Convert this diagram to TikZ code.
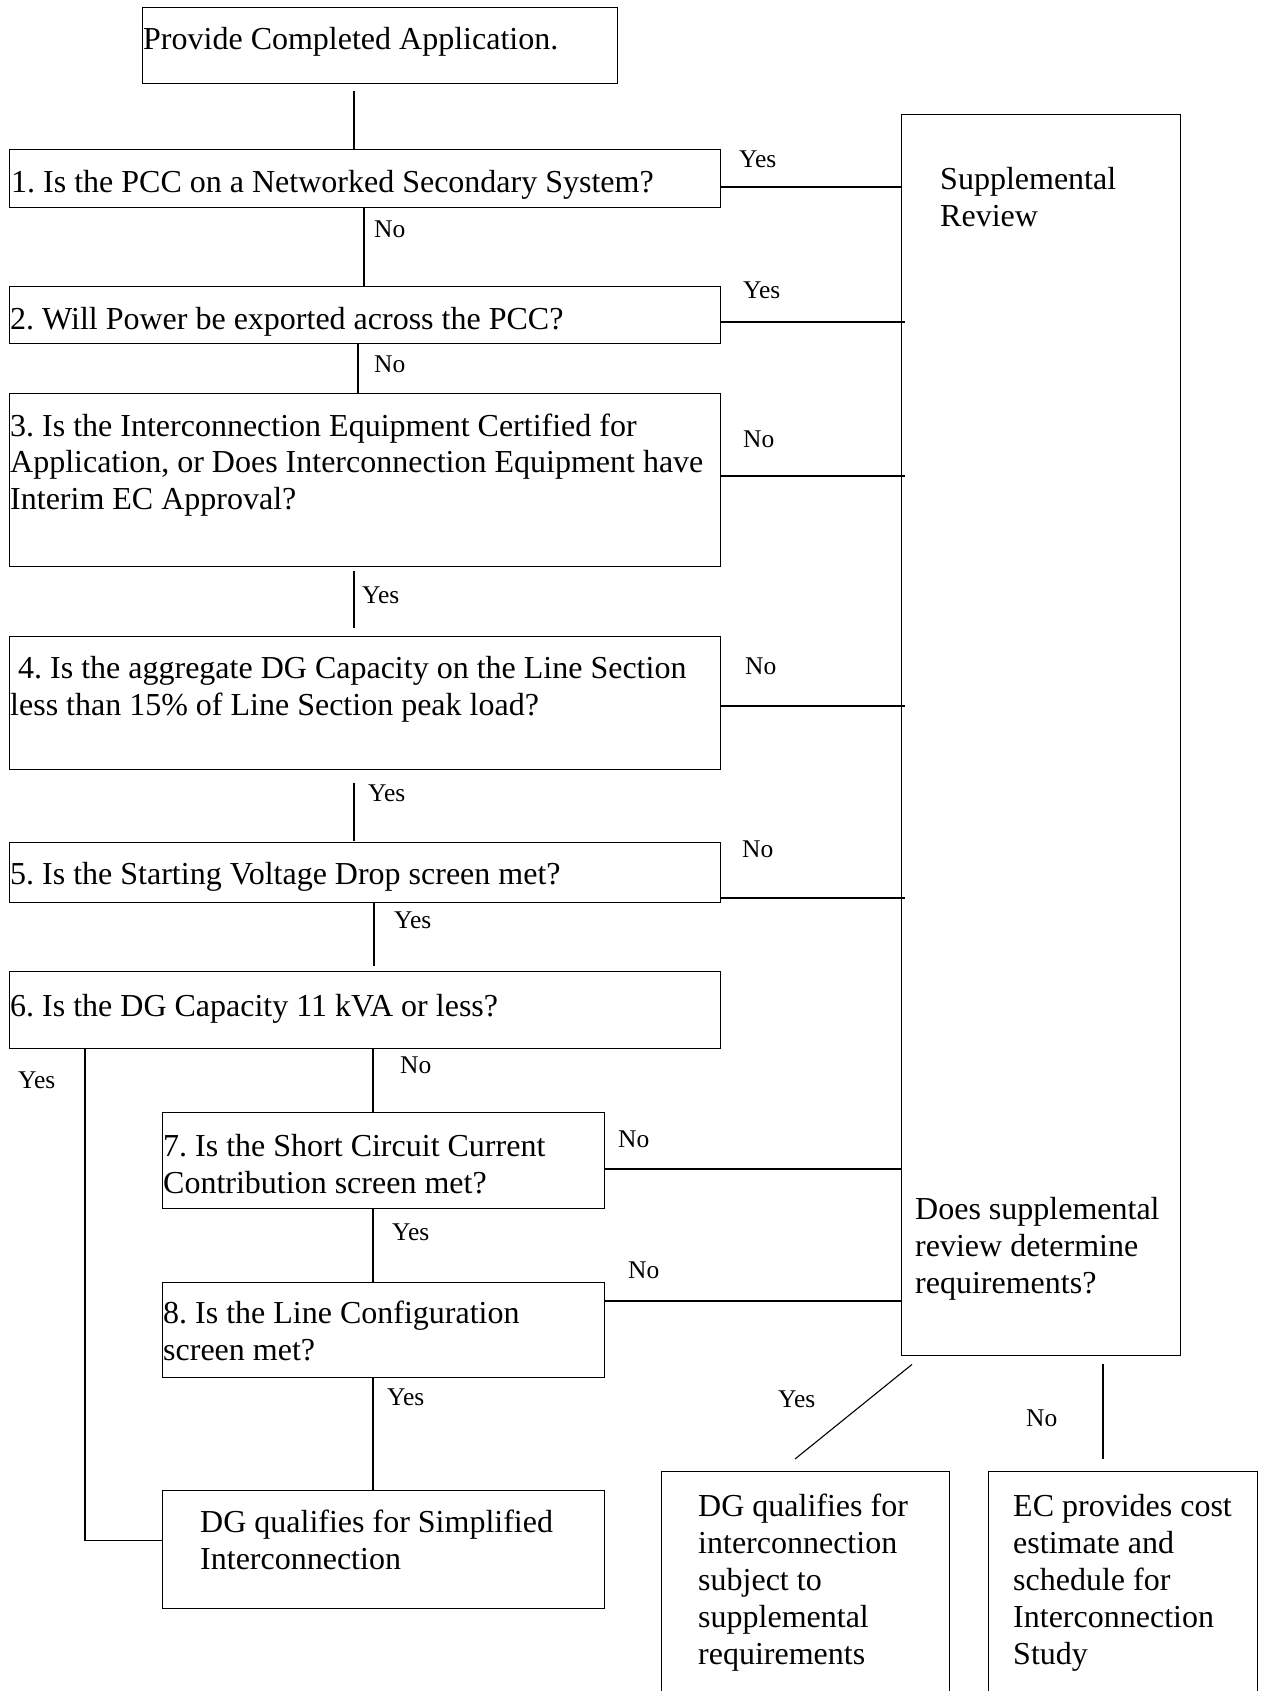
\documentclass[tikz,border=0pt]{standalone}
\usepackage{fontspec}
\setmainfont{Liberation Serif}

\begin{document}
\frenchspacing
\begin{tikzpicture}[x=1pt,y=-1pt,
	qbox/.style={draw, line width=1.4pt, anchor=north west, inner sep=0pt},
	txt/.style={anchor=base west, inner sep=0pt, align=left, font=\fontsize{32}{36.8}\selectfont},
	lbl/.style={anchor=base west, inner sep=0pt, font=\fontsize{25.5}{29}\selectfont},
	wire/.style={line width=1.1pt}]
\useasboundingbox (0,0) rectangle (1261,1691);

	\node[qbox, minimum width=475pt, minimum height=76pt] (q0) at (142,7) {};
	\node[qbox, minimum width=711pt, minimum height=58pt] (q1) at (9,149) {};
	\node[qbox, minimum width=711pt, minimum height=57pt] (q2) at (9,286) {};
	\node[qbox, minimum width=711pt, minimum height=173pt] (q3) at (9,393) {};
	\node[qbox, minimum width=711pt, minimum height=133pt] (q4) at (9,636) {};
	\node[qbox, minimum width=711pt, minimum height=60pt] (q5) at (9,842) {};
	\node[qbox, minimum width=711pt, minimum height=77pt] (q6) at (9,971) {};
	\node[qbox, minimum width=442pt, minimum height=96pt] (q7) at (162,1112) {};
	\node[qbox, minimum width=442pt, minimum height=95pt] (q8) at (162,1282) {};
	\node[qbox, minimum width=442pt, minimum height=118pt] (q9) at (162,1490) {};
	\node[qbox, minimum width=279pt, minimum height=1241pt] (sr) at (901,114) {};
	\node[qbox, minimum width=288pt, minimum height=240pt] (qa) at (661,1471) {};
	\node[qbox, minimum width=269pt, minimum height=240pt] (qb) at (988,1471) {};

	\node[txt] (t0) at (143,50) {Provide Completed Application.};
	\node[txt] (t1) at (11,192) {1. Is the PCC on a Networked Secondary System?};
	\node[txt] (t2) at (10,329) {2. Will Power be exported across the PCC?};
	\node[txt] (t3) at (10,509.6) {3. Is the Interconnection Equipment Certified for\\Application, or Does Interconnection Equipment have\\Interim EC Approval?};
	\node[txt] (t4) at (10,715) {\hspace*{8pt}4. Is the aggregate DG Capacity on the Line Section\\less than 15\% of Line Section peak load?};
	\node[txt] (t5) at (10,884) {5. Is the Starting Voltage Drop screen met?};
	\node[txt] (t6) at (10,1016) {6. Is the DG Capacity 11 kVA or less?};
	\node[txt] (t7) at (163,1193) {7. Is the Short Circuit Current\\Contribution screen met?};
	\node[txt] (t8) at (163,1360) {8. Is the Line Configuration\\screen met?};
	\node[txt] (t9) at (200,1569) {DG qualifies for Simplified\\Interconnection};
	\node[txt] (tsr) at (940,226) {Supplemental\\Review};
	\node[txt] (tdo) at (915,1293) {Does supplemental\\review determine\\requirements?};
	\node[txt] (ta) at (698,1664) {DG qualifies for\\interconnection\\subject to\\supplemental\\requirements};
	\node[txt] (tb) at (1013,1664) {EC provides cost\\estimate and\\schedule for\\Interconnection\\Study};

	\node[lbl] (y1) at (739,167) {Yes};
	\node[lbl] (y2) at (743,298) {Yes};
	\node[lbl] (n3) at (743,447) {No};
	\node[lbl] (n4) at (745,674) {No};
	\node[lbl] (n5) at (742,857) {No};
	\node[lbl] (n12) at (374,237) {No};
	\node[lbl] (n23) at (374,372) {No};
	\node[lbl] (y34) at (362,603) {Yes};
	\node[lbl] (y45) at (368,801) {Yes};
	\node[lbl] (y56) at (394,928) {Yes};
	\node[lbl] (y69) at (18,1088) {Yes};
	\node[lbl] (n67) at (400,1073) {No};
	\node[lbl] (n7) at (618,1147) {No};
	\node[lbl] (y78) at (392,1240) {Yes};
	\node[lbl] (n8) at (628,1278) {No};
	\node[lbl] (y89) at (387,1405) {Yes};
	\node[lbl] (ya) at (778,1407) {Yes};
	\node[lbl] (nb) at (1026,1426) {No};

	\coordinate (c1) at (354,0);
	\coordinate (c2) at (364,0);
	\coordinate (c3) at (358,0);
	\coordinate (c5) at (374,0);
	\coordinate (c6) at (373,0);
	\coordinate (cy) at (85,0);
	\coordinate (cb) at (1103,0);

	\draw[wire, shorten <=7pt] (q0.south -| c1) -- (q1.north -| c1);
	\draw[wire] (q1.south -| c2) -- (q2.north -| c2);
	\draw[wire] (q2.south -| c3) -- (q3.north -| c3);
	\draw[wire, shorten <=4pt, shorten >=8pt] (q3.south -| c1) -- (q4.north -| c1);
	\draw[wire, shorten <=13pt, shorten >=1pt] (q4.south -| c1) -- (q5.north -| c1);
	\draw[wire, shorten >=5pt] (q5.south -| c5) -- (q6.north -| c5);
	\draw[wire] (q6.south -| c6) -- (q7.north -| c6);
	\draw[wire] (q7.south -| c6) -- (q8.north -| c6);
	\draw[wire] (q8.south -| c6) -- (q9.north -| c6);
	\draw[wire] (q6.south -| cy) |- ([yshift=9pt]q9.west);

	\draw[wire] (q1.east |- 0,187) -- (sr.west |- 0,187);
	\draw[wire, shorten >=-4pt] (q2.east |- 0,322) -- (sr.west |- 0,322);
	\draw[wire, shorten >=-4pt] (q3.east |- 0,476) -- (sr.west |- 0,476);
	\draw[wire, shorten >=-4pt] (q4.east |- 0,706) -- (sr.west |- 0,706);
	\draw[wire, shorten >=-4pt] (q5.east |- 0,898) -- (sr.west |- 0,898);
	\draw[wire] (q7.east |- 0,1169) -- (sr.west |- 0,1169);
	\draw[wire] (q8.east |- 0,1301) -- (sr.west |- 0,1301);

	\draw[wire] ([shift={(11pt,-8pt)}]sr.south west) -- ([shift={(134pt,12pt)}]qa.north west);
	\draw[wire, shorten <=8pt, shorten >=12pt] (sr.south -| cb) -- (qb.north -| cb);
\end{tikzpicture}
\end{document}
